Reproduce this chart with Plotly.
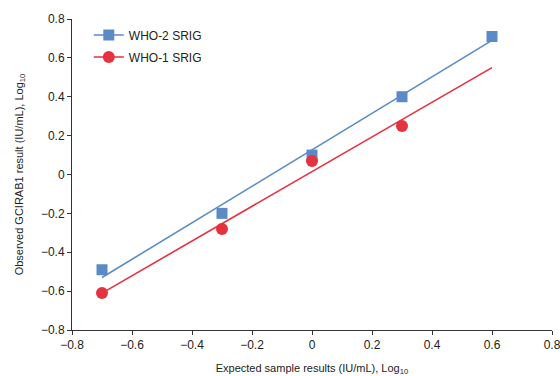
import plotly.graph_objects as go

# Data
x_who2 = [-0.7, -0.3, 0.0, 0.3, 0.6]
y_who2 = [-0.49, -0.20, 0.10, 0.40, 0.71]
x_who1 = [-0.7, -0.3, 0.0, 0.3]
y_who1 = [-0.61, -0.28, 0.07, 0.25]

# Trend line end points
trend_x = [-0.7, 0.6]
trend_who2 = [-0.53, 0.69]
trend_who1 = [-0.61, 0.55]

tick_vals = [-0.8, -0.6, -0.4, -0.2, 0, 0.2, 0.4, 0.6, 0.8]
tick_text = ["\u22120.8", "\u22120.6", "\u22120.4", "\u22120.2", "0", "0.2", "0.4", "0.6", "0.8"]

BLUE = "#5B8BC7"
RED = "#E5323F"
FONT = "Liberation Sans, Arial, sans-serif"

fig = go.Figure()

fig.add_trace(go.Scatter(x=trend_x, y=trend_who2, mode="lines",
                         line=dict(color=BLUE, width=1.6), showlegend=False, hoverinfo="skip"))
fig.add_trace(go.Scatter(x=trend_x, y=trend_who1, mode="lines",
                         line=dict(color=RED, width=1.6), showlegend=False, hoverinfo="skip"))
fig.add_trace(go.Scatter(x=x_who2, y=y_who2, mode="markers",
                         marker=dict(symbol="square", size=11, color=BLUE), showlegend=False))
fig.add_trace(go.Scatter(x=x_who1, y=y_who1, mode="markers",
                         marker=dict(symbol="circle", size=12, color=RED), showlegend=False))
fig.add_trace(go.Scatter(x=[None], y=[None], mode="lines+markers", name="WHO-2 SRIG",
                         legendgroup="who2",
                         line=dict(color=BLUE, width=1.6),
                         marker=dict(symbol="square", size=11, color=BLUE)))
fig.add_trace(go.Scatter(x=[None], y=[None], mode="lines+markers", name="WHO-1 SRIG",
                         legendgroup="who1",
                         line=dict(color=RED, width=1.6),
                         marker=dict(symbol="circle", size=12, color=RED)))

axis_common = dict(
    showgrid=False, zeroline=False, showline=True, linecolor="#333333", linewidth=1,
    ticks="outside", ticklen=4, tickcolor="#333333", tickwidth=1,
    tickfont=dict(family=FONT, size=12, color="#222222"),
    tickvals=tick_vals, ticktext=tick_text, ticklabeloverflow="allow",
    automargin=False,
)

fig.update_layout(
    width=560, height=376,
    margin=dict(l=72, r=8, t=19, b=46),
    paper_bgcolor="white", plot_bgcolor="white",
    font=dict(family=FONT, size=12, color="#222222"),
    xaxis=dict(range=[-0.8, 0.8],
               title=dict(text="Expected sample results (IU/mL), Log<sub>10</sub>",
                          font=dict(family=FONT, size=11)),
               **axis_common),
    yaxis=dict(range=[-0.8, 0.8],
               title=dict(text="Observed GCIRAB1 result (IU/mL), Log<sub>10</sub>",
                          font=dict(family=FONT, size=11)),
               **axis_common),
    legend=dict(x=0.035, y=0.995, xanchor="left", yanchor="top",
                bgcolor="rgba(0,0,0,0)", font=dict(family=FONT, size=12),
                tracegroupgap=3, itemwidth=30),
)

fig.write_html("out.html")
